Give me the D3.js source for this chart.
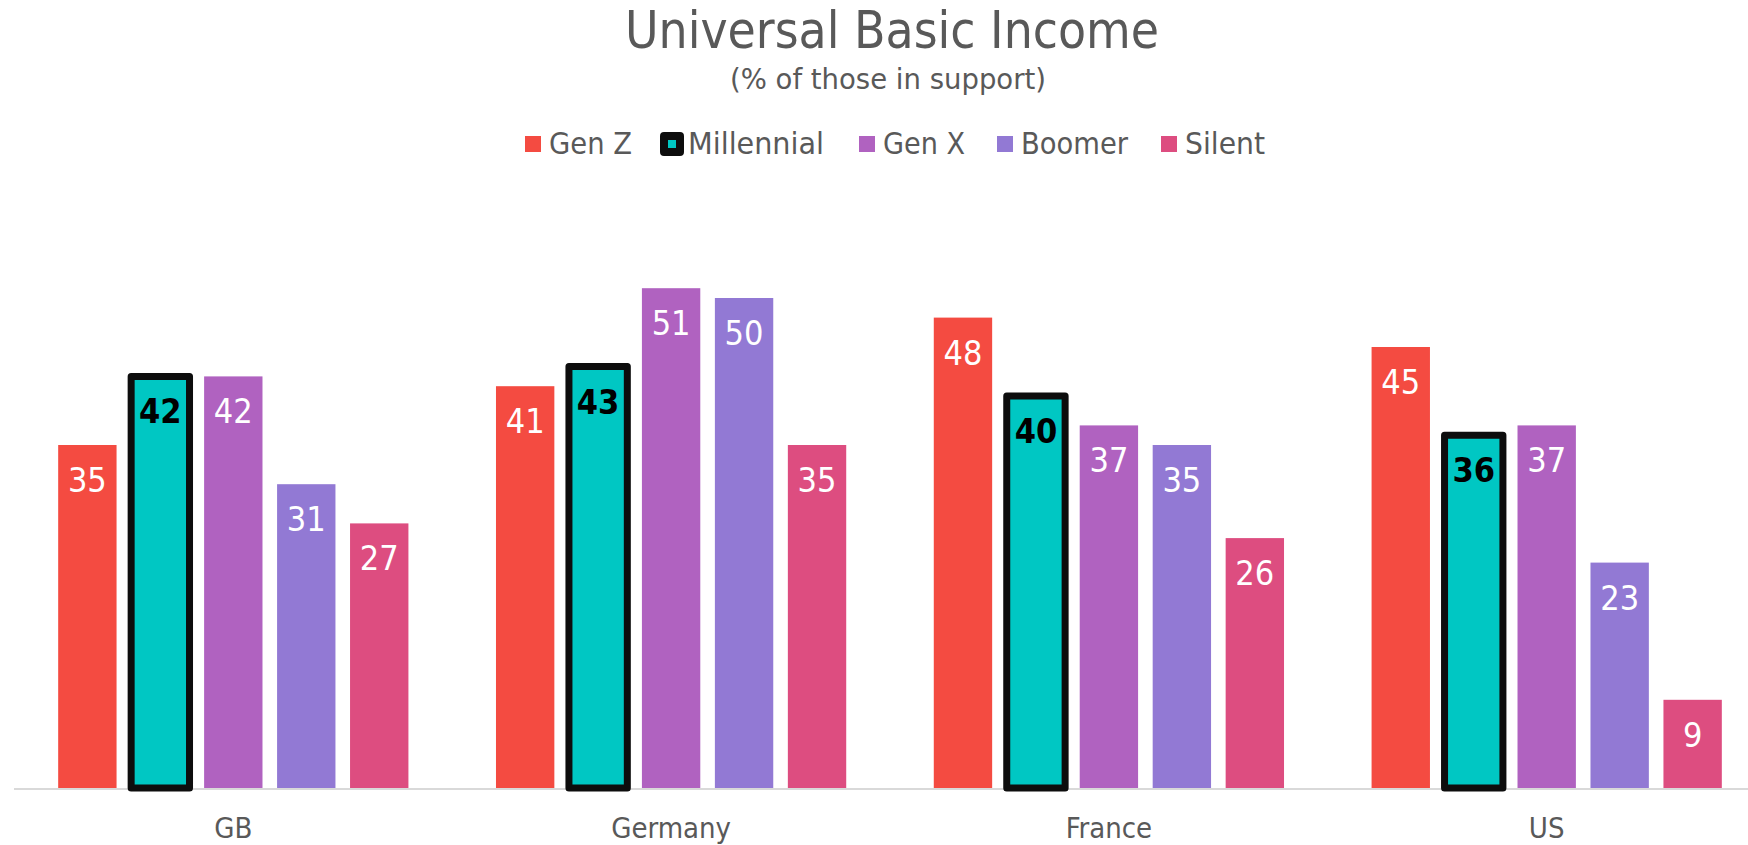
<!DOCTYPE html>
<html>
  <head>
    <script src="https://d3js.org/d3.v7.min.js"></script>
    <style>
      body { margin: 0; background: #fff; }
      text { font-family: "DejaVu Sans Condensed", "DejaVu Sans", sans-serif; }
    </style>
  </head>
  <body>
    <div id="chart"></div>

    <script>
      const countries = ["GB", "Germany", "France", "US"];
      const generations = ["Gen Z", "Millennial", "Gen X", "Boomer", "Silent"];
      const genZ = [35, 41, 48, 45];
      const millennial = [42, 43, 40, 36];
      const genX = [42, 51, 37, 37];
      const boomer = [31, 50, 35, 23];
      const silent = [27, 35, 25.5, 9];
      const colors = ["#f44b41", "#00c7c3", "#b062c0", "#9279d4", "#dd4d80"];

      const seriesValues = [genZ, millennial, genX, boomer, silent];
      const data = countries.map((c, i) => ({
        country: c,
        values: generations.map((g, j) => ({ gen: g, idx: j, value: seriesValues[j][i] }))
      }));

      const width = 1748;
      const height = 845;
      const baseline = 788;
      const textColor = "#595959";

      const svg = d3.select("#chart")
        .append("svg")
        .attr("width", width)
        .attr("height", height);

      const x0 = d3.scaleBand()
        .domain(countries)
        .range([14.4, 1765.6])
        .paddingInner(0.2)
        .paddingOuter(0.1);

      const x1 = d3.scaleBand()
        .domain(generations)
        .range([0, x0.bandwidth()])
        .paddingInner(0.2);

      const y = d3.scaleLinear()
        .domain([0, 60])
        .range([baseline, 200]);

      // axis baseline
      svg.append("line")
        .attr("x1", 14)
        .attr("x2", width)
        .attr("y1", baseline + 1)
        .attr("y2", baseline + 1)
        .attr("stroke", "#d9d9d9")
        .attr("stroke-width", 2);

      const groups = svg.selectAll(".group")
        .data(data)
        .enter()
        .append("g")
        .attr("class", "group")
        .attr("transform", d => `translate(${x0(d.country)},0)`);

      groups.selectAll("rect")
        .data(d => d.values)
        .enter()
        .append("rect")
        .attr("x", d => x1(d.gen))
        .attr("y", d => y(d.value))
        .attr("width", x1.bandwidth())
        .attr("height", d => y(0) - y(d.value))
        .attr("fill", d => colors[d.idx])
        .attr("stroke", d => d.gen === "Millennial" ? "#0d0d0d" : "none")
        .attr("stroke-width", 7)
        .attr("stroke-linejoin", "round");

      groups.selectAll(".label")
        .data(d => d.values)
        .enter()
        .append("text")
        .attr("class", "label")
        .attr("x", d => x1(d.gen) + x1.bandwidth() / 2)
        .attr("y", d => y(d.value) + 47)
        .attr("text-anchor", "middle")
        .style("font-size", "34px")
        .style("font-weight", d => d.gen === "Millennial" ? "bold" : "normal")
        .attr("fill", d => d.gen === "Millennial" ? "#000" : "#fff")
        .text(d => Math.round(d.value));

      // category labels
      const xAxis = svg.append("g")
        .attr("transform", `translate(0, ${baseline})`)
        .call(d3.axisBottom(x0).tickSize(0).tickPadding(0));
      xAxis.select(".domain").remove();
      xAxis.selectAll("text")
        .attr("y", 50)
        .attr("dy", 0)
        .attr("fill", textColor)
        .style("font-family", "'DejaVu Sans Condensed', 'DejaVu Sans', sans-serif")
        .style("font-size", "29px");

      // title
      svg.append("text")
        .attr("x", 892)
        .attr("y", 48)
        .attr("text-anchor", "middle")
        .attr("fill", textColor)
        .attr("textLength", 534)
        .attr("lengthAdjust", "spacingAndGlyphs")
        .style("font-size", "52px")
        .text("Universal Basic Income");

      svg.append("text")
        .attr("x", 888)
        .attr("y", 89)
        .attr("text-anchor", "middle")
        .attr("fill", textColor)
        .attr("textLength", 316)
        .attr("lengthAdjust", "spacingAndGlyphs")
        .style("font-size", "28px")
        .text("(% of those in support)");

      // legend
      const legendStart = [525, 664, 859, 997, 1161];
      const legendTextW = [83, 136, 82, 107, 80];
      const legend = svg.selectAll(".legend")
        .data(generations)
        .enter()
        .append("g")
        .attr("class", "legend")
        .attr("transform", (d, i) => `translate(${legendStart[i]}, 136)`);

      legend.append("rect")
        .attr("width", 16)
        .attr("height", 16)
        .attr("fill", (d, i) => colors[i])
        .attr("stroke", d => d === "Millennial" ? "#0d0d0d" : "none")
        .attr("stroke-width", 8)
        .attr("stroke-linejoin", "round");

      legend.append("text")
        .attr("x", 24)
        .attr("y", 18)
        .attr("fill", textColor)
        .attr("textLength", (d, i) => legendTextW[i])
        .attr("lengthAdjust", "spacingAndGlyphs")
        .style("font-size", "31px")
        .text(d => d);
    </script>
  </body>
</html>
